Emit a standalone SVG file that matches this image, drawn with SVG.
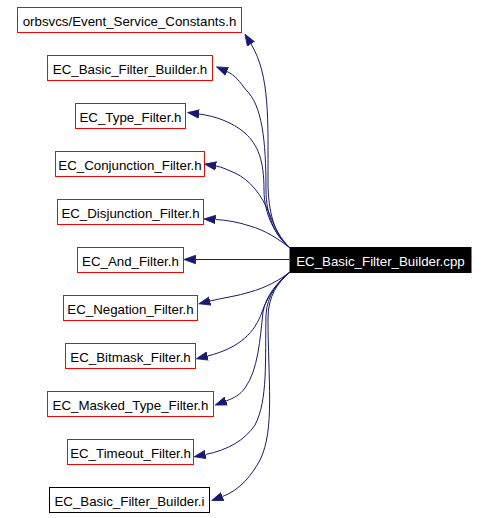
<svg xmlns="http://www.w3.org/2000/svg" width="488" height="518" viewBox="0 0 488 518">
<style>
.n rect{fill:#fff;stroke:#ff0000;stroke-width:1}
.n text{font-family:"Liberation Sans",Arial,sans-serif;font-size:13.3px;fill:#000;text-anchor:middle}
#n11 rect{stroke:#000}
#c rect{fill:#000;stroke:#000}
#c text{fill:#fff}
.e path{fill:none;stroke:#191970;stroke-width:1;marker-end:url(#a)}
</style>
<defs>
<marker id="a" markerUnits="userSpaceOnUse" markerWidth="12" markerHeight="10" viewBox="0 -5 12 10" refX="0" refY="0" orient="auto">
<path d="M0,-4.2 L11.5,0 L0,4.2 z" fill="#191970" stroke="#191970" stroke-width="0.8"/>
</marker>
</defs>
<rect width="488" height="518" fill="#fff"/>
<g class="e" id="edges">
<path d="M289,247 C275,236 268,212 268,182 C268,120 270,75 251,44"/>
<path d="M289,247 C275,236 266,215 266,190 C266,140 262,105 246,90 C240,82 235,75 227,71.5"/>
<path d="M289,247 C276,236 264,215 264,190 C264,160 258,145 245,133 C232,122 215,116 199,114"/>
<path d="M290,248 C280,238 275,228 270,215 C262,195 250,180 235,173 C228,170 222,167 216,166"/>
<path d="M290,248 C280,240 265,230 250,226 C238,222 226,220 215.5,219.5"/>
<path d="M289,259.5 L195.5,259.5"/>
<path d="M290,272 C280,280 265,288 250,292 C238,296 222,298 210,301"/>
<path d="M290,272 C278,282 268,295 262,312 C255,332 240,348 207.5,356"/>
<path d="M290,272 C278,282 266,295 263,312 C260,340 258,370 245,388 C240,395 234,398 226,401"/>
<path d="M290,272 C278,282 267,295 266,315 C265,360 268,400 255,425 C245,440 228,450 205.5,454.5"/>
<path d="M290,272 C278,282 268,296 268,318 C268,380 275,430 260,460 C252,475 240,490 222.5,496.5"/>
</g>
<g class="n" id="n1"><rect x="17.5" y="7.5" width="224" height="25"/><text x="129.5" y="26.3">orbsvcs/Event_Service_Constants.h</text></g>
<g class="n" id="n2"><rect x="47.5" y="55.5" width="165" height="25"/><text x="130" y="74.3">EC_Basic_Filter_Builder.h</text></g>
<g class="n" id="n3"><rect x="75.5" y="103.5" width="110" height="25"/><text x="130.5" y="122.3">EC_Type_Filter.h</text></g>
<g class="n" id="n4"><rect x="55.5" y="151.5" width="149" height="25"/><text x="130" y="170.3">EC_Conjunction_Filter.h</text></g>
<g class="n" id="n5"><rect x="57.5" y="199.5" width="146" height="25"/><text x="130.5" y="218.3">EC_Disjunction_Filter.h</text></g>
<g class="n" id="n6"><rect x="77.5" y="247.5" width="106" height="25"/><text x="130.5" y="266.3">EC_And_Filter.h</text></g>
<g class="n" id="n7"><rect x="63.5" y="295.5" width="134" height="25"/><text x="130.5" y="314.3">EC_Negation_Filter.h</text></g>
<g class="n" id="n8"><rect x="65.5" y="343.5" width="130" height="25"/><text x="130.5" y="362.3">EC_Bitmask_Filter.h</text></g>
<g class="n" id="n9"><rect x="47.5" y="391.5" width="166" height="25"/><text x="130.5" y="410.3">EC_Masked_Type_Filter.h</text></g>
<g class="n" id="n10"><rect x="67.5" y="439.5" width="126" height="25"/><text x="130.5" y="458.3">EC_Timeout_Filter.h</text></g>
<g class="n" id="n11"><rect x="49.5" y="487.5" width="160" height="25"/><text x="129.5" y="506.3">EC_Basic_Filter_Builder.i</text></g>
<g class="n" id="c"><rect x="290" y="247.5" width="181" height="25"/><text x="380.5" y="266">EC_Basic_Filter_Builder.cpp</text></g>
</svg>
